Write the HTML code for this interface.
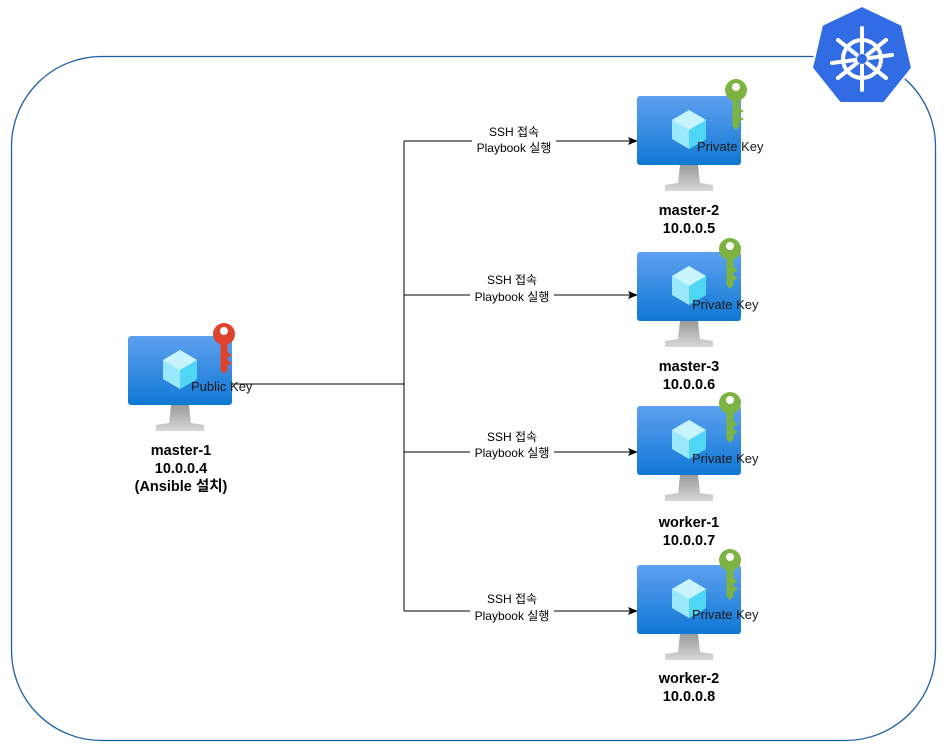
<!DOCTYPE html>
<html><head><meta charset="utf-8"><style>
html,body{margin:0;padding:0;background:#fff;}
svg{display:block;font-family:"Liberation Sans","Noto Sans CJK KR",sans-serif;}
</style></head><body>
<svg width="945" height="748" viewBox="0 0 945 748" xmlns="http://www.w3.org/2000/svg">
<defs>
<linearGradient id="scr" x1="0" y1="0" x2="0" y2="1"><stop offset="0" stop-color="#5ea0ef"/><stop offset="1" stop-color="#0f78d4"/></linearGradient>
<linearGradient id="std" x1="0" y1="0" x2="0" y2="1"><stop offset="0" stop-color="#9a9a9a"/><stop offset="1" stop-color="#d8d8d8"/></linearGradient>
<marker id="ar" markerWidth="10" markerHeight="8" refX="9" refY="4" orient="auto" markerUnits="userSpaceOnUse"><path d="M0,0 L10,4 L0,8 L2,4Z" fill="#000"/></marker>
<g id="mon">
<path d="M43,69 L61,69 L63,87 L76,89 L76,95 L28,95 L28,89 L41,87Z" fill="url(#std)"/>
<rect x="0" y="0" width="104" height="69" rx="3" fill="url(#scr)"/>
<path d="M52,14 L69,24 L69,43 L52,53 L35,43 L35,24Z" fill="#9ae8fb"/>
<path d="M52,14 L69,24 L52,34 L35,24Z" fill="#c8f4ff"/>
<path d="M52,34 L69,24 L69,43 L52,53Z" fill="#50d6f5"/>
</g>
<g id="key">
<circle cx="0" cy="0" r="11"/>
<path d="M-3.5,8 L3.5,8 L3.5,36 L0,40 L-3.5,36 Z"/>
<path d="M3,18 L8,21 L3,24 Z M3,26 L8,29 L3,32Z"/>
<circle cx="0" cy="-3" r="4" fill="#fff"/>
</g>
</defs>
<rect x="11.5" y="56.5" width="924" height="684" rx="90" ry="90" fill="none" stroke="#1d5ea4" stroke-width="1.3"/>
<path d="M862,6 L902,25 L912,68 L884,103 L840,103 L812,68 L822,25Z" fill="#326ce5" stroke="#fff" stroke-width="2" stroke-linejoin="round"/>
<g stroke="#fff" stroke-width="4" fill="none" stroke-linecap="round">
<circle cx="862" cy="59" r="19"/>
<line x1="862" y1="28" x2="862" y2="90"/>
<line x1="838" y1="40" x2="886" y2="78"/>
<line x1="886" y1="40" x2="838" y2="78"/>
<line x1="832" y1="63" x2="892" y2="55"/>
</g>
<circle cx="862" cy="59" r="5" fill="#326ce5"/>
<g stroke="#000" stroke-width="1" fill="none">
<path d="M232,384 H404"/>
<path d="M404,141 V611"/>
<path d="M404,141 H637" marker-end="url(#ar)"/>
<path d="M404,295 H637" marker-end="url(#ar)"/>
<path d="M404,452 H637" marker-end="url(#ar)"/>
<path d="M404,611 H637" marker-end="url(#ar)"/>
</g>
<g font-size="12" text-anchor="middle" fill="#000">
<rect x="472" y="137" width="84" height="16" fill="#fff"/>
<text x="514" y="136">SSH 접속</text><text x="514" y="152">Playbook 실행</text>
<rect x="470" y="290" width="84" height="14" fill="#fff"/>
<text x="512" y="284">SSH 접속</text><text x="512" y="301">Playbook 실행</text>
<rect x="470" y="446" width="84" height="14" fill="#fff"/>
<text x="512" y="441">SSH 접속</text><text x="512" y="457">Playbook 실행</text>
<rect x="470" y="604" width="84" height="16" fill="#fff"/>
<text x="512" y="603">SSH 접속</text><text x="512" y="620">Playbook 실행</text>
</g>
<use href="#mon" x="128" y="336"/>
<use href="#key" x="224" y="334" fill="#e0432b"/>
<use href="#mon" x="637" y="96"/>
<use href="#key" x="736" y="90" fill="#7cb342"/>
<use href="#mon" x="637" y="252"/>
<use href="#key" x="730" y="249" fill="#7cb342"/>
<use href="#mon" x="637" y="406"/>
<use href="#key" x="730" y="403" fill="#7cb342"/>
<use href="#mon" x="637" y="565"/>
<use href="#key" x="730" y="560" fill="#7cb342"/>
<g font-size="13" fill="#1a1a1a">
<text x="191" y="391">Public Key</text>
<text x="697" y="151">Private Key</text>
<text x="692" y="309">Private Key</text>
<text x="692" y="463">Private Key</text>
<text x="692" y="619">Private Key</text>
</g>
<g font-size="14.5" font-weight="bold" text-anchor="middle" fill="#000">
<text x="181" y="455">master-1</text><text x="181" y="473">10.0.0.4</text><text x="181" y="491">(Ansible 설치)</text>
<text x="689" y="215">master-2</text><text x="689" y="233">10.0.0.5</text>
<text x="689" y="371">master-3</text><text x="689" y="389">10.0.0.6</text>
<text x="689" y="527">worker-1</text><text x="689" y="545">10.0.0.7</text>
<text x="689" y="683">worker-2</text><text x="689" y="701">10.0.0.8</text>
</g>
</svg>
</body></html>
